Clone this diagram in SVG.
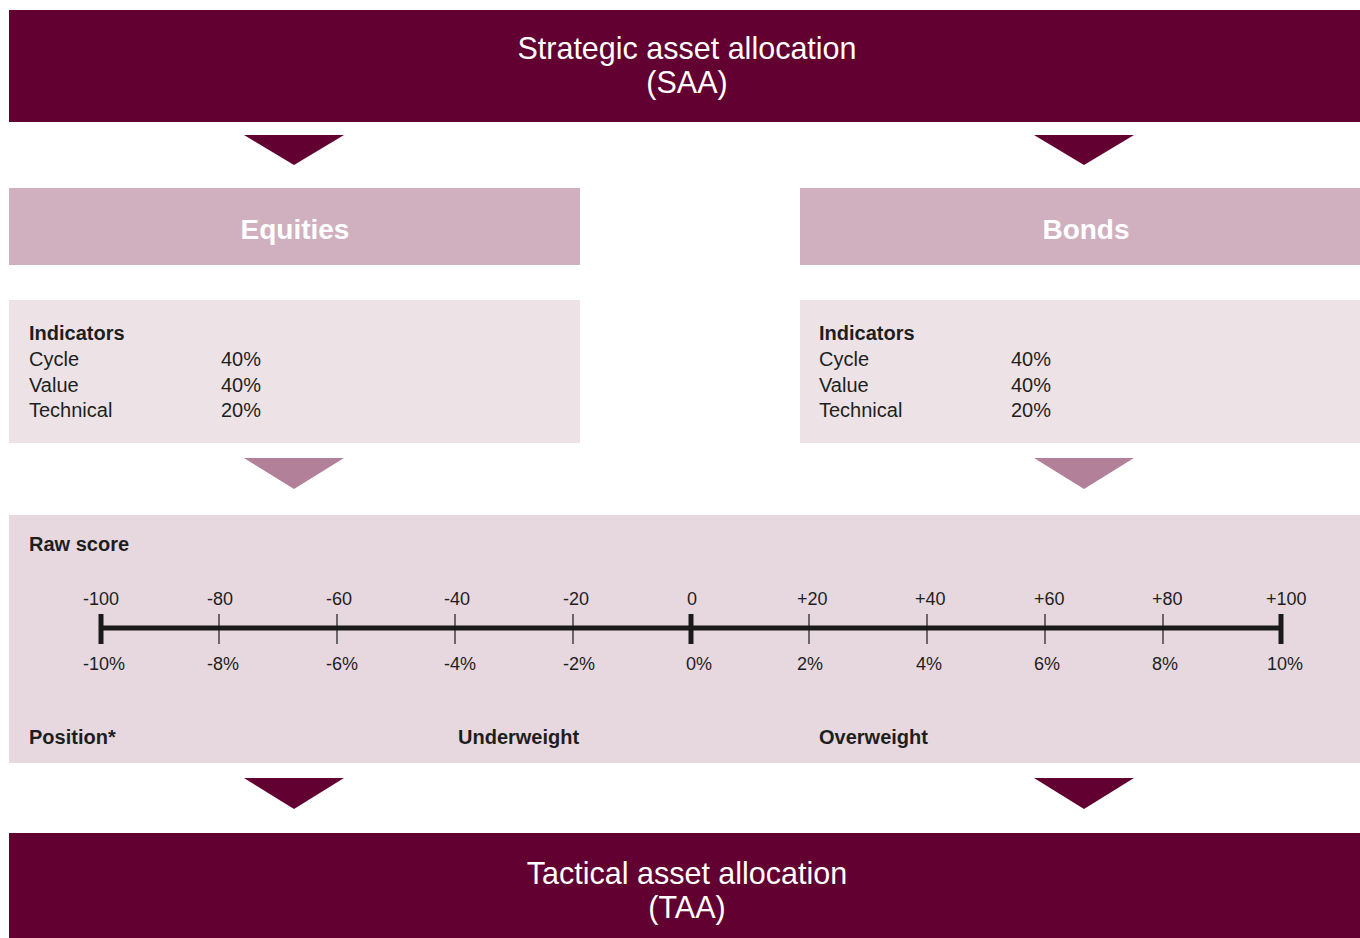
<svg xmlns="http://www.w3.org/2000/svg" width="1360" height="938" viewBox="0 0 1360 938">
  <style>
    text { font-family: "Liberation Sans", Arial, sans-serif; }
    .dark { fill: #620031; }
    .head { fill: #d0b0bf; }
    .ind { fill: #ede3e7; }
    .score { fill: #e7d8df; }
    .mid { fill: #b38099; }
    .title { fill: #ffffff; font-size: 30.5px; text-anchor: middle; }
    .cat { fill: #ffffff; font-size: 28px; text-anchor: middle; font-weight: bold; }
    .lbl { fill: #1e1e1e; font-size: 20px; font-weight: bold; }
    .body { fill: #1e1e1e; font-size: 20px; }
    .tick { fill: #1e1e1e; font-size: 18px; }
    .axis { stroke: #1a1a1a; stroke-width: 5; }
    .cap { stroke: #1a1a1a; stroke-width: 5; }
    .minor { stroke: #1a1a1a; stroke-width: 1.2; }
  </style>

  <rect width="1360" height="938" fill="#ffffff"/>

  <g id="saa">
    <rect class="dark" x="9" y="10" width="1351" height="112"/>
    <text class="title" x="687" y="59">Strategic asset allocation</text>
    <text class="title" x="687" y="93">(SAA)</text>
  </g>

  <g id="equities">
    <rect class="head" x="9" y="188" width="571" height="77"/>
    <text class="cat" x="295" y="239">Equities</text>
  </g>

  <g id="bonds">
    <rect class="head" x="800" y="188" width="560" height="77"/>
    <text class="cat" x="1086" y="239">Bonds</text>
  </g>

  <g id="equities-indicators">
    <rect class="ind" x="9" y="300" width="571" height="143"/>
    <text class="lbl" x="29" y="340">Indicators</text>
    <text class="body" x="29" y="366">Cycle</text>
    <text class="body" x="29" y="392">Value</text>
    <text class="body" x="29" y="417">Technical</text>
    <text class="body" x="221" y="366">40%</text>
    <text class="body" x="221" y="392">40%</text>
    <text class="body" x="221" y="417">20%</text>
  </g>

  <g id="bonds-indicators">
    <rect class="ind" x="800" y="300" width="560" height="143"/>
    <text class="lbl" x="819" y="340">Indicators</text>
    <text class="body" x="819" y="366">Cycle</text>
    <text class="body" x="819" y="392">Value</text>
    <text class="body" x="819" y="417">Technical</text>
    <text class="body" x="1011" y="366">40%</text>
    <text class="body" x="1011" y="392">40%</text>
    <text class="body" x="1011" y="417">20%</text>
  </g>

  <g id="raw-score">
    <rect class="score" x="9" y="515" width="1351" height="248"/>
    <text class="lbl" x="29" y="551">Raw score</text>

    <!-- scale bar -->
    <line class="axis" x1="101" y1="628" x2="1281" y2="628"/>
    <line class="cap" x1="101" y1="614" x2="101" y2="644"/>
    <line class="cap" x1="691" y1="614" x2="691" y2="644"/>
    <line class="cap" x1="1281" y1="614" x2="1281" y2="644"/>
    <g class="minor">
      <line x1="219" y1="614" x2="219" y2="644"/>
      <line x1="337" y1="614" x2="337" y2="644"/>
      <line x1="455" y1="614" x2="455" y2="644"/>
      <line x1="573" y1="614" x2="573" y2="644"/>
      <line x1="809" y1="614" x2="809" y2="644"/>
      <line x1="927" y1="614" x2="927" y2="644"/>
      <line x1="1045" y1="614" x2="1045" y2="644"/>
      <line x1="1163" y1="614" x2="1163" y2="644"/>
    </g>

    <!-- raw score values -->
    <text class="tick" x="83" y="605">-100</text>
    <text class="tick" x="207" y="605">-80</text>
    <text class="tick" x="326" y="605">-60</text>
    <text class="tick" x="444" y="605">-40</text>
    <text class="tick" x="563" y="605">-20</text>
    <text class="tick" x="687" y="605">0</text>
    <text class="tick" x="797" y="605">+20</text>
    <text class="tick" x="915" y="605">+40</text>
    <text class="tick" x="1034" y="605">+60</text>
    <text class="tick" x="1152" y="605">+80</text>
    <text class="tick" x="1266" y="605">+100</text>

    <!-- position values -->
    <text class="tick" x="83" y="670">-10%</text>
    <text class="tick" x="207" y="670">-8%</text>
    <text class="tick" x="326" y="670">-6%</text>
    <text class="tick" x="444" y="670">-4%</text>
    <text class="tick" x="563" y="670">-2%</text>
    <text class="tick" x="686" y="670">0%</text>
    <text class="tick" x="797" y="670">2%</text>
    <text class="tick" x="916" y="670">4%</text>
    <text class="tick" x="1034" y="670">6%</text>
    <text class="tick" x="1152" y="670">8%</text>
    <text class="tick" x="1267" y="670">10%</text>

    <text class="lbl" x="29" y="744">Position*</text>
    <text class="lbl" x="458" y="744">Underweight</text>
    <text class="lbl" x="819" y="744">Overweight</text>
  </g>

  <g id="taa">
    <rect class="dark" x="9" y="833" width="1351" height="105"/>
    <text class="title" x="687" y="884">Tactical asset allocation</text>
    <text class="title" x="687" y="918">(TAA)</text>
  </g>

  <g id="connectors">
    <polygon class="dark" points="244,135 344,135 294,165"/>
    <polygon class="dark" points="1034,135 1134,135 1084,165"/>
    <polygon class="mid" points="244,458 344,458 294,489"/>
    <polygon class="mid" points="1034,458 1134,458 1084,489"/>
    <polygon class="dark" points="244,778 344,778 294,809"/>
    <polygon class="dark" points="1034,778 1134,778 1084,809"/>
  </g>
</svg>
